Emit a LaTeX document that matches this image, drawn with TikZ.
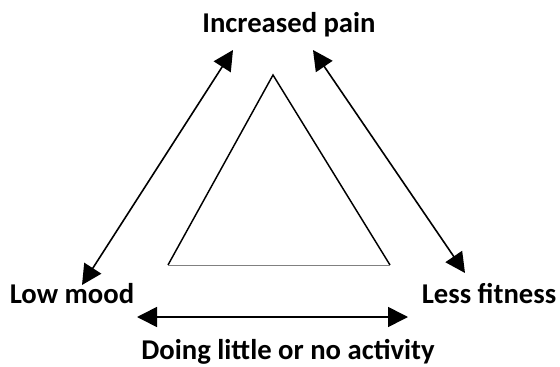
\documentclass[tikz,border=0pt]{standalone}
\usepackage{fontspec}
\setmainfont{Carlito}
\usepackage{tikz}
\usetikzlibrary{arrows.meta,calc,positioning}

\begin{document}
\begin{tikzpicture}[x=0.75pt,y=-0.75pt,
  label/.style={font=\fontsize{21.5}{26}\selectfont\bfseries,inner sep=0pt},
  pfeil/.style={line width=1.2pt,{Triangle[length=15pt,width=15pt]}-{Triangle[length=15pt,width=15pt]}}]
\useasboundingbox (0,0) rectangle (560,367);
%Beschriftungen
\node[label] (pain) at (289,25) {Increased pain};
\node[label] (mood) at (72,294) {Low mood};
\node[label] (fitness) at (489,294) {Less fitness};
\node[label] (activity) at (288,352) {Doing little or no activity};
%Pfeilspitzen
\coordinate (painL) at (233,50);
\coordinate (painR) at (313,50);
\coordinate (moodO) at (82,285);
\coordinate (fitO) at (465,273);
\coordinate (moodU) at (137,317);
\coordinate (fitU) at (408,317);
\draw[pfeil] (moodO) -- (painL);
\draw[pfeil] (painR) -- (fitO);
\draw[pfeil] (moodU) -- (fitU);
%Dreieck
\draw[line width=1.1pt] (168,265) -- (273,75) -- (390,265);
\draw[gray,line width=0.6pt] (168,265) -- (390,265);
\end{tikzpicture}
\end{document}
